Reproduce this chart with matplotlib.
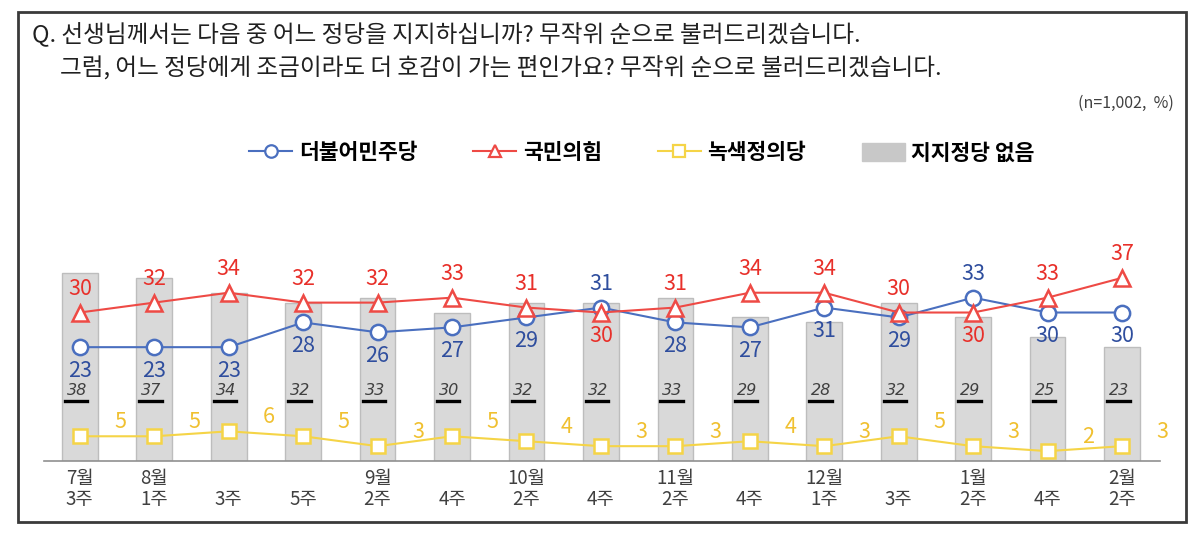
import matplotlib
matplotlib.use("Agg")
import matplotlib.pyplot as plt
from matplotlib.patches import Rectangle
from matplotlib.lines import Line2D

plt.rcParams['font.family'] = ['Noto Sans CJK KR', 'DejaVu Sans']

weeks = ["7월\n3주", "8월\n1주", "\n3주", "\n5주", "9월\n2주", "\n4주", "10월\n2주", "\n4주",
         "11월\n2주", "\n4주", "12월\n1주", "\n3주", "1월\n2주", "\n4주", "2월\n2주"]
democratic = [23, 23, 23, 28, 26, 27, 29, 31, 28, 27, 31, 29, 33, 30, 30]
ppp = [30, 32, 34, 32, 32, 33, 31, 30, 31, 34, 34, 30, 30, 33, 37]
justice = [5, 5, 6, 5, 3, 5, 4, 3, 3, 4, 3, 5, 3, 2, 3]
no_party = [38, 37, 34, 32, 33, 30, 32, 32, 33, 29, 28, 32, 29, 25, 23]

c_blue, c_blue_txt = '#4a6fbf', '#2f4e9e'
c_red, c_red_txt = '#ee4a45', '#e8302a'
c_yel, c_yel_txt = '#f5d447', '#f0c030'

fig = plt.figure(figsize=(12, 5.42), dpi=100)
ax = fig.add_axes([0.0367, 0.1494, 0.930, 0.548])
x = list(range(len(weeks)))

ax.bar(x, no_party, width=0.48, color='#d9d9d9', edgecolor='#bdbdbd', linewidth=1, zorder=1)
for i, v in enumerate(no_party):
    ax.text(i - 0.04, 12.8, str(v), ha='center', va='bottom', fontsize=11.5, style='italic',
            color='#404040', family='DejaVu Sans', zorder=5)
    ax.plot([i - 0.2, i + 0.1], [12.2, 12.2], color='black', lw=2.4, zorder=5)

ax.plot(x, justice, color=c_yel, lw=1.5, marker='s', ms=10, mfc='white', mec=c_yel, mew=1.8, zorder=3)
ax.plot(x, democratic, color=c_blue, lw=1.5, marker='o', ms=11, mfc='white', mec=c_blue, mew=1.8, zorder=4)
ax.plot(x, ppp, color=c_red, lw=1.5, marker='^', ms=11, mfc='white', mec=c_red, mew=1.8, zorder=4)

for i in x:
    d, p = democratic[i], ppp[i]
    d_off = 17 if d > p else -17
    p_off = 17 if p >= d else -17
    ax.annotate(str(d), (i, d), xytext=(0, d_off), textcoords='offset points', ha='center',
                va='center', fontsize=15.5, color=c_blue_txt, zorder=6)
    ax.annotate(str(p), (i, p), xytext=(0, p_off), textcoords='offset points', ha='center',
                va='center', fontsize=15.5, color=c_red_txt, zorder=6)
    ax.annotate(str(justice[i]), (i, justice[i]), xytext=(29, 10), textcoords='offset points',
                ha='center', va='center', fontsize=15.5, color=c_yel_txt, zorder=6)

ax.set_xlim(-0.48, 14.51)
ax.set_ylim(0, 60)
ax.set_yticks([])
ax.set_xticks(x)
ax.set_xticklabels(weeks, fontsize=13.5, color='#404040', linespacing=1.0)
ax.tick_params(axis='x', length=0, pad=5)
for s in ['top', 'right', 'left']:
    ax.spines[s].set_visible(False)
ax.spines['bottom'].set_color('#909090')
ax.spines['bottom'].set_linewidth(1.2)

handles = [
    Line2D([], [], color=c_blue, lw=1.5, marker='o', ms=9, mfc='white', mec=c_blue, mew=1.6),
    Line2D([], [], color=c_red, lw=1.5, marker='^', ms=9, mfc='white', mec=c_red, mew=1.6),
    Line2D([], [], color=c_yel, lw=1.5, marker='s', ms=8, mfc='white', mec=c_yel, mew=1.6),
    Rectangle((0, 0), 1, 1, color='#c8c8c8'),
]
labels = ['더불어민주당', '국민의힘', '녹색정의당', '지지정당 없음']
fig.legend(handles, labels, loc='center', bbox_to_anchor=(0.535, 0.718), ncol=4, frameon=False,
           handlelength=2.0, handleheight=0.9, handletextpad=0.3, columnspacing=2.6,
           prop={'size': 15.5, 'weight': 'bold'})

fig.text(0.027, 0.935, "Q. 선생님께서는 다음 중 어느 정당을 지지하십니까? 무작위 순으로 불러드리겠습니다.",
         fontsize=17, color='#202020', va='center')
fig.text(0.05, 0.873, "그럼, 어느 정당에게 조금이라도 더 호감이 가는 편인가요? 무작위 순으로 불러드리겠습니다.",
         fontsize=17, color='#202020', va='center')
fig.text(0.978, 0.81, "(n=1,002,  %)", fontsize=11.5, color='#404040', ha='right', va='center')

fig.patches.append(Rectangle((0.015, 0.037), 0.973, 0.94, transform=fig.transFigure,
                             fill=False, edgecolor='#3a3a3a', lw=2))

fig.savefig('out.png', dpi=100)
